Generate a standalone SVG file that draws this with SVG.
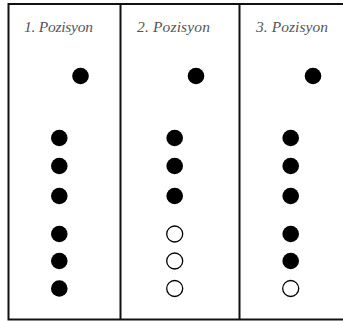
<svg xmlns="http://www.w3.org/2000/svg" width="343" height="321" viewBox="0 0 343 321">
<style>
.frame{fill:none;stroke:#111;stroke-width:2}
.lbl{font-family:"Liberation Serif","DejaVu Serif",serif;font-style:italic;font-size:15.5px;fill:#555}
.on{fill:#000}
.off{fill:#fff;stroke:#000;stroke-width:1.3}
</style>
<rect width="343" height="321" fill="#fff"/>
<g id="frame">
<rect class="frame" x="8.5" y="4" width="352" height="315.5"/>
<line class="frame" x1="120.5" y1="4" x2="120.5" y2="319.5"/>
<line class="frame" x1="239.5" y1="4" x2="239.5" y2="319.5"/>
</g>
<g id="col1">
<text class="lbl" x="24" y="31.5" textLength="69">1. Pozisyon</text>
<circle class="on" cx="80.5" cy="76" r="8.3"/>
<circle class="on" cx="59.3" cy="138" r="8.3"/>
<circle class="on" cx="59.3" cy="166" r="8.3"/>
<circle class="on" cx="59.3" cy="196" r="8.3"/>
<circle class="on" cx="59.3" cy="234" r="8.3"/>
<circle class="on" cx="59.3" cy="261" r="8.3"/>
<circle class="on" cx="59.3" cy="288.5" r="8.3"/>
</g>
<g id="col2">
<text class="lbl" x="137" y="31.5" textLength="73">2. Pozisyon</text>
<circle class="on" cx="196" cy="76" r="8.3"/>
<circle class="on" cx="174.7" cy="138" r="8.3"/>
<circle class="on" cx="174.7" cy="166" r="8.3"/>
<circle class="on" cx="174.7" cy="196" r="8.3"/>
<circle class="off" cx="174.7" cy="234" r="8"/>
<circle class="off" cx="174.7" cy="261" r="8"/>
<circle class="off" cx="174.7" cy="288.5" r="8"/>
</g>
<g id="col3">
<text class="lbl" x="256" y="31.5" textLength="72">3. Pozisyon</text>
<circle class="on" cx="313" cy="76" r="8.3"/>
<circle class="on" cx="290.7" cy="138" r="8.3"/>
<circle class="on" cx="290.7" cy="166" r="8.3"/>
<circle class="on" cx="290.7" cy="196" r="8.3"/>
<circle class="on" cx="290.7" cy="234" r="8.3"/>
<circle class="on" cx="290.7" cy="261" r="8.3"/>
<circle class="off" cx="290.7" cy="288.5" r="8"/>
</g>
</svg>
